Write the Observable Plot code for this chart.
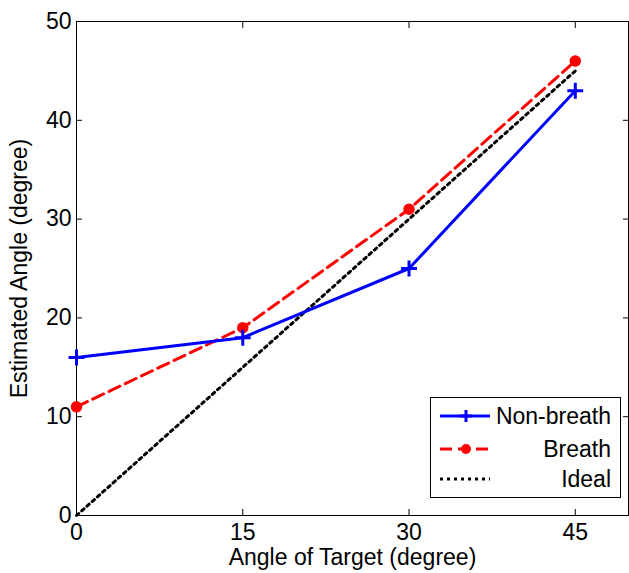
<!DOCTYPE html>
<html>
<head>
<meta charset="utf-8">
<script src="https://cdn.jsdelivr.net/npm/d3@7"></script>
<script src="https://cdn.jsdelivr.net/npm/@observablehq/plot@0.6"></script>
<style>
  body { margin: 0; background: #fff; }
  #wrap { position: relative; width: 629px; height: 573px; font-family: "Liberation Sans", Arial, sans-serif; }
  #legend { position: absolute; left: 430px; top: 397px; width: 189px; height: 99px; border: 1px solid #000; background: #fff; font-size: 23px; }
  .row { position: absolute; left: 0; width: 189px; height: 26px; }
  .row svg { position: absolute; left: 6px; top: 0; }
  .row span { position: absolute; right: 9px; top: 0; line-height: 26px; color: #000; }
</style>
</head>
<body>
<div id="wrap"></div>
<script>
const angles = [0, 15, 30, 45];
const nonBreath = [16, 18, 25, 43];
const breath = [11, 19, 31, 46];
const ideal = [0, 15, 30, 45];
const xTicks = [0, 15, 30, 45];
const yTicks = [0, 10, 20, 30, 40, 50];
const seriesNames = ["Non-breath", "Breath", "Ideal"];

const nb = angles.map((a, i) => ({x: a, y: nonBreath[i]}));
const br = angles.map((a, i) => ({x: a, y: breath[i]}));
const id = angles.map((a, i) => ({x: a, y: ideal[i]}));

const FS = 23;
const chart = Plot.plot({
  width: 629,
  height: 573,
  marginLeft: 76,
  marginTop: 21,
  marginBottom: 58,
  marginRight: 1,
  style: {fontFamily: "'Liberation Sans', Arial, sans-serif", fontSize: FS + "px", color: "#000", background: "#fff"},
  x: {domain: [0, 49.8]},
  y: {domain: [0, 50]},
  marks: [
    Plot.axisX({ticks: xTicks, tickSize: -6, tickPadding: 14, fontSize: FS, label: "Angle of Target (degree)", labelAnchor: "center", labelOffset: 49, labelArrow: "none"}),
    Plot.axisX({anchor: "top", ticks: xTicks, tickSize: -6, tickFormat: () => "", label: null}),
    Plot.axisY({ticks: yTicks, tickSize: -6, tickPadding: 11, fontSize: FS, label: "Estimated Angle (degree)", labelAnchor: "center", labelOffset: 66, labelArrow: "none"}),
    Plot.axisY({anchor: "right", ticks: yTicks, tickSize: -6, tickFormat: () => "", label: null}),
    Plot.frame({stroke: "#000"}),
    Plot.line(id, {x: "x", y: "y", stroke: "#000", strokeWidth: 3, strokeDasharray: "3,4"}),
    Plot.line(br, {x: "x", y: "y", stroke: "#ff0000", strokeWidth: 3, strokeDasharray: "12,6"}),
    Plot.dot(br, {x: "x", y: "y", r: 5, fill: "#ff0000", stroke: "#ff0000"}),
    Plot.line(nb, {x: "x", y: "y", stroke: "#0000ff", strokeWidth: 3}),
    Plot.dot(nb, {x: "x", y: "y", symbol: "plus", r: 5.2, stroke: "#0000ff", strokeWidth: 3})
  ]
});

const wrap = document.getElementById("wrap");
wrap.appendChild(chart);

const legend = document.createElement("div");
legend.id = "legend";
const styles = [
  {stroke: "#0000ff", dash: "", marker: "plus"},
  {stroke: "#ff0000", dash: "12,6", marker: "circle"},
  {stroke: "#000", dash: "3,4", marker: null}
];
const tops = [5, 38, 68];
seriesNames.forEach((name, i) => {
  const row = document.createElement("div");
  row.className = "row";
  row.style.top = tops[i] + "px";
  const s = styles[i];
  let m = "";
  if (s.marker === "plus") m = `<path d="M29,7 V19 M23,13 H35" stroke="${s.stroke}" stroke-width="3"/>`;
  if (s.marker === "circle") m = `<circle cx="29" cy="13" r="5" fill="${s.stroke}"/>`;
  row.innerHTML = `<svg width="60" height="26"><line x1="3" y1="13" x2="53" y2="13" stroke="${s.stroke}" stroke-width="3" ${s.dash ? `stroke-dasharray="${s.dash}"` : ""}/>${m}</svg><span>${name}</span>`;
  legend.appendChild(row);
});
wrap.appendChild(legend);
</script>
</body>
</html>
